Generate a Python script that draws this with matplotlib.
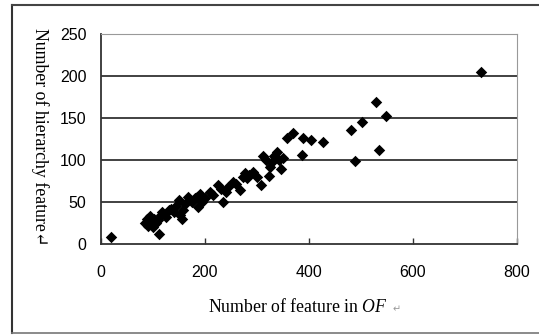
import matplotlib
matplotlib.use('Agg')
from matplotlib import pyplot as plt
from matplotlib.lines import Line2D

plt.rcParams['mathtext.fontset'] = 'custom'
plt.rcParams['mathtext.it'] = 'Liberation Serif:italic'
plt.rcParams['mathtext.rm'] = 'Liberation Serif'

# feature counts
of_features = [20, 85, 88, 90, 92, 95, 98, 100, 102, 105, 110, 112, 115, 118, 125,
               130, 135, 140, 145, 150, 152, 155, 158, 162, 168, 175, 180, 184, 187,
               190, 195, 200, 210, 215, 225, 230, 235, 240, 245, 254, 260, 267, 273,
               277, 280, 285, 292, 300, 307, 312, 318, 324, 325, 328, 332, 338, 342,
               346, 350, 357, 369, 386, 389, 403, 426, 480, 488, 502, 529, 535, 549, 731]
hier_features = [8, 25, 30, 22, 28, 33, 26, 20, 30, 25, 28, 12, 35, 38, 32,
                 40, 42, 38, 45, 52, 35, 30, 40, 48, 56, 50, 55, 56, 44,
                 60, 50, 55, 62, 58, 70, 65, 50, 62, 68, 74, 72, 64, 80,
                 85, 78, 82, 86, 80, 70, 105, 100, 81, 92, 98, 105, 110, 100,
                 89, 102, 126, 132, 106, 126, 124, 121, 136, 99, 145, 169, 112, 152, 205]

x_ticks = [0, 200, 400, 600, 800]
y_ticks = [0, 50, 100, 150, 200, 250]

TICK_FONT = ['Liberation Sans', 'DejaVu Sans']
LABEL_FONT = ['Liberation Serif', 'DejaVu Serif']

fig = plt.figure(figsize=(5.39, 3.35), dpi=100)
W, H = 539, 335
ax = fig.add_axes([101 / W, 1 - 244 / H, (517 - 101) / W, (244 - 34) / H])

# outer chart frame
fig.add_artist(Line2D([12 / W, 12 / W], [1 - 5 / H, 1 - 333 / H], color='#333333', lw=1.5))
fig.add_artist(Line2D([12 / W, 1], [1 - 5 / H, 1 - 5 / H], color='#444444', lw=1.5))
fig.add_artist(Line2D([12 / W, 1], [1 - 333 / H, 1 - 333 / H], color='#777777', lw=1.2))

for y in y_ticks[1:-1]:
  ax.axhline(y, color='#333333', lw=1.3, zorder=1)

ax.scatter(of_features, hier_features, marker='D', s=34, color='black', zorder=3, linewidths=0)

ax.set_xlim(0, 800)
ax.set_ylim(0, 250)
ax.set_xticks(x_ticks)
ax.set_yticks(y_ticks)
ax.set_xticklabels([str(v) for v in x_ticks], family=TICK_FONT, fontsize=11.5)
ax.set_yticklabels([str(v) for v in y_ticks], family=TICK_FONT, fontsize=11.5)
ax.tick_params(axis='x', direction='in', length=4, width=1, pad=15, color='#333333')
ax.tick_params(axis='y', length=0, pad=10.5)

ax.spines['left'].set_color('#333333')
ax.spines['bottom'].set_color('#333333')
ax.spines['left'].set_linewidth(1.3)
ax.spines['bottom'].set_linewidth(1.3)
ax.spines['top'].set_color('#999999')
ax.spines['right'].set_color('#999999')

fig.text(298 / W, 1 - 307 / H, r'Number of feature in $\mathit{OF}$',
         family=LABEL_FONT, fontsize=12.8, ha='center', va='center')
fig.text(397 / W, 1 - 309 / H, '\u21b5', family='DejaVu Sans', fontsize=7,
         color='#999999', ha='center', va='center')
fig.text(40 / W, 1 - 137 / H, 'Number of hierarchy feature\u21b5',
         family=LABEL_FONT, fontsize=12.8, rotation=270, ha='center', va='center')

fig.savefig('out.png', dpi=100)
